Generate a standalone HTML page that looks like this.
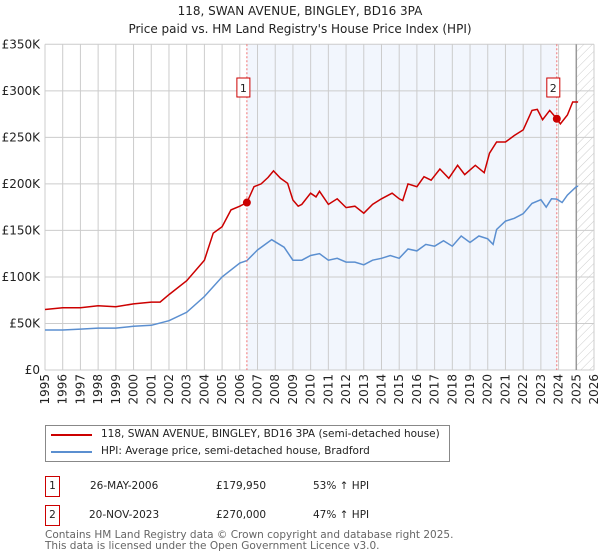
<!DOCTYPE html>
<html><head><meta charset="utf-8"><style>
body{margin:0;background:#fff;font-family:"DejaVu Sans","Liberation Sans",sans-serif;}
#wrap{position:relative;width:600px;height:560px;overflow:hidden;}
.t{position:absolute;white-space:nowrap;}
</style></head><body>
<div id="wrap">
<svg id="chart" width="600" height="560" style="position:absolute;left:0;top:0;font-family:'DejaVu Sans',sans-serif">
<defs><pattern id="hatch" width="6" height="6" patternUnits="userSpaceOnUse" patternTransform="rotate(45)"><line x1="0" y1="0" x2="0" y2="6" stroke="#ccc" stroke-width="1"/></pattern></defs>
<text x="300" y="15" text-anchor="middle" font-size="12" fill="#222">118, SWAN AVENUE, BINGLEY, BD16 3PA</text>
<text x="300" y="33" text-anchor="middle" font-size="12" fill="#222">Price paid vs. HM Land Registry's House Price Index (HPI)</text>
</svg>
<div style="position:absolute;left:45px;top:425px;width:403px;height:35px;border:1px solid #888;font-size:10.5px;color:#222;">
<div style="position:absolute;left:5px;top:8px;width:41px;height:2px;background:#cc0000"></div>
<div class="t" style="left:55px;top:2px">118, SWAN AVENUE, BINGLEY, BD16 3PA (semi-detached house)</div>
<div style="position:absolute;left:5px;top:25px;width:41px;height:2px;background:#5b8fd0"></div>
<div class="t" style="left:55px;top:19px">HPI: Average price, semi-detached house, Bradford</div>
</div>
<div style="font-size:10.5px;color:#222">
<div class="t" style="left:45px;top:476px;width:13px;height:19px;border:1px solid #cc0000;text-align:center;line-height:19px">1</div>
<div class="t" style="left:90px;top:480px">26-MAY-2006</div>
<div class="t" style="left:216px;top:480px">£179,950</div>
<div class="t" style="left:313px;top:480px">53% ↑ HPI</div>
</div>
<div style="font-size:10.5px;color:#222">
<div class="t" style="left:45px;top:505px;width:13px;height:19px;border:1px solid #cc0000;text-align:center;line-height:19px">2</div>
<div class="t" style="left:89px;top:509px">20-NOV-2023</div>
<div class="t" style="left:216px;top:509px">£270,000</div>
<div class="t" style="left:313px;top:509px">47% ↑ HPI</div>
</div>
<div class="t" style="left:45px;top:530px;font-size:10.5px;color:#666;line-height:11px">Contains HM Land Registry data © Crown copyright and database right 2025.<br>This data is licensed under the Open Government Licence v3.0.</div>
</div>
<script>
const hpiYears=[1995,1996,1997,1998,1999,2000,2001,2002,2003,2004,2005,2006,2006.4,2007,2007.8,2008.5,2009,2009.5,2010,2010.5,2011,2011.5,2012,2012.5,2013,2013.5,2014,2014.5,2015,2015.5,2016,2016.5,2017,2017.5,2018,2018.5,2019,2019.5,2020,2020.3,2020.5,2021,2021.5,2022,2022.5,2023,2023.3,2023.6,2023.9,2024.2,2024.5,2025,2025.1];
const hpiValues=[43,43,44,45,45,47,48,53,62,79,100,115,117.6,129,140,132,118,118,123,125,118,120,116,116,113,118,120,123,120,130,128,135,133,139,133,144,137,144,141,135,151,160,163,168,179,183,175,184,183.7,180,188,197,197.5];
const priceYears=[1995,1996,1997,1998,1999,2000,2001,2001.5,2002,2003,2004,2004.5,2005,2005.5,2006,2006.4,2006.8,2007.2,2007.6,2007.9,2008.3,2008.7,2009,2009.3,2009.5,2010,2010.3,2010.5,2011,2011.5,2012,2012.5,2013,2013.5,2014,2014.6,2015,2015.2,2015.5,2016,2016.4,2016.8,2017.3,2017.8,2018.3,2018.7,2019.3,2019.8,2020.1,2020.5,2021,2021.5,2022,2022.5,2022.8,2023.1,2023.5,2023.9,2024.1,2024.5,2024.8,2025.1];
const priceValues=[65,67,67,69,68,71,73,73,81,96,118,147,154,172,176,179.95,197,200,207,214,206,200.6,182.7,176,178,190,186,192,178,184,174.5,176,168.5,178,184,190,184,182,200,197,207.7,204,216,206,220,210,220,212,233,245,245,252,258,279,280,269,279,270,264.5,274,288,288];
const saleYears=[2006.4,2023.9];
const saleValues=[179.95,270];
const yTicks=[0,50,100,150,200,250,300,350];
const yTickLabels=["£0","£50K","£100K","£150K","£200K","£250K","£300K","£350K"];
const xTicks=[1995,1996,1997,1998,1999,2000,2001,2002,2003,2004,2005,2006,2007,2008,2009,2010,2011,2012,2013,2014,2015,2016,2017,2018,2019,2020,2021,2022,2023,2024,2025,2026];
const forecastStart=2025.0;
const X0=45,X1=594,Y0=370,Y1=44.3;
const xs=y=>X0+(y-1995)/(2026-1995)*(X1-X0);
const ys=v=>Y0-v/350*(Y0-Y1);
const svg=document.getElementById('chart');
const NS='http://www.w3.org/2000/svg';
function mk(tag,at){const e=document.createElementNS(NS,tag);for(const k in at)e.setAttribute(k,at[k]);svg.appendChild(e);return e;}
let e;
e=mk('rect',{x:xs(saleYears[0]),y:Y1,width:xs(saleYears[1])-xs(saleYears[0]),height:Y0-Y1,fill:'#f2f6fd'});


e=mk('rect',{x:xs(forecastStart),y:Y1,width:X1-xs(forecastStart),height:Y0-Y1,fill:'url(#hatch)'});


xTicks.forEach(t=>{
 e=mk('line',{x1:xs(t),x2:xs(t),y1:Y1,y2:Y0,stroke:'#ccc','stroke-width':1});
 
 
 e=mk('text',{x:0,y:0,'font-size':12,fill:'#222','text-anchor':'end',transform:`translate(${xs(t)+4},374) rotate(-90)`});
 e.textContent=t;
 
 
});
yTicks.forEach((t,i)=>{
 e=mk('line',{x1:X0,x2:X1,y1:ys(t),y2:ys(t),stroke:'#ccc','stroke-width':1});
 
 
 e=mk('text',{x:40,y:ys(t)+4,'font-size':12,fill:'#222','text-anchor':'end'});
 e.textContent=yTickLabels[i];
 
 
});
e=mk('line',{x1:xs(forecastStart),x2:xs(forecastStart),y1:Y1,y2:Y0,stroke:'#999','stroke-width':1.5});


function path(xa,va){return xa.map((x,i)=>(i?'L':'M')+xs(x).toFixed(1)+','+ys(va[i]).toFixed(1)).join('');}
e=mk('path',{d:path(hpiYears,hpiValues),fill:'none',stroke:'#5b8fd0','stroke-width':1.5});


e=mk('path',{d:path(priceYears,priceValues),fill:'none',stroke:'#cc0000','stroke-width':1.5});


saleYears.forEach((s,i)=>{
 e=mk('line',{x1:xs(s),x2:xs(s),y1:Y1,y2:Y0,stroke:'#f07070','stroke-width':1,'stroke-dasharray':'2,2'});
 
 
 e=mk('circle',{cx:xs(s),cy:ys(saleValues[i]),r:4,fill:'#cc0000'});
 
 
 e=mk('rect',{x:xs(s)-10,y:78,width:13,height:19,fill:'#fff',stroke:'#cc0000','stroke-width':1});
 
 
 e=mk('text',{x:xs(s)-3.5,y:92,'font-size':11,fill:'#222','text-anchor':'middle'});
 e.textContent=String(i+1);
 
 
});
</script>
</body></html>
